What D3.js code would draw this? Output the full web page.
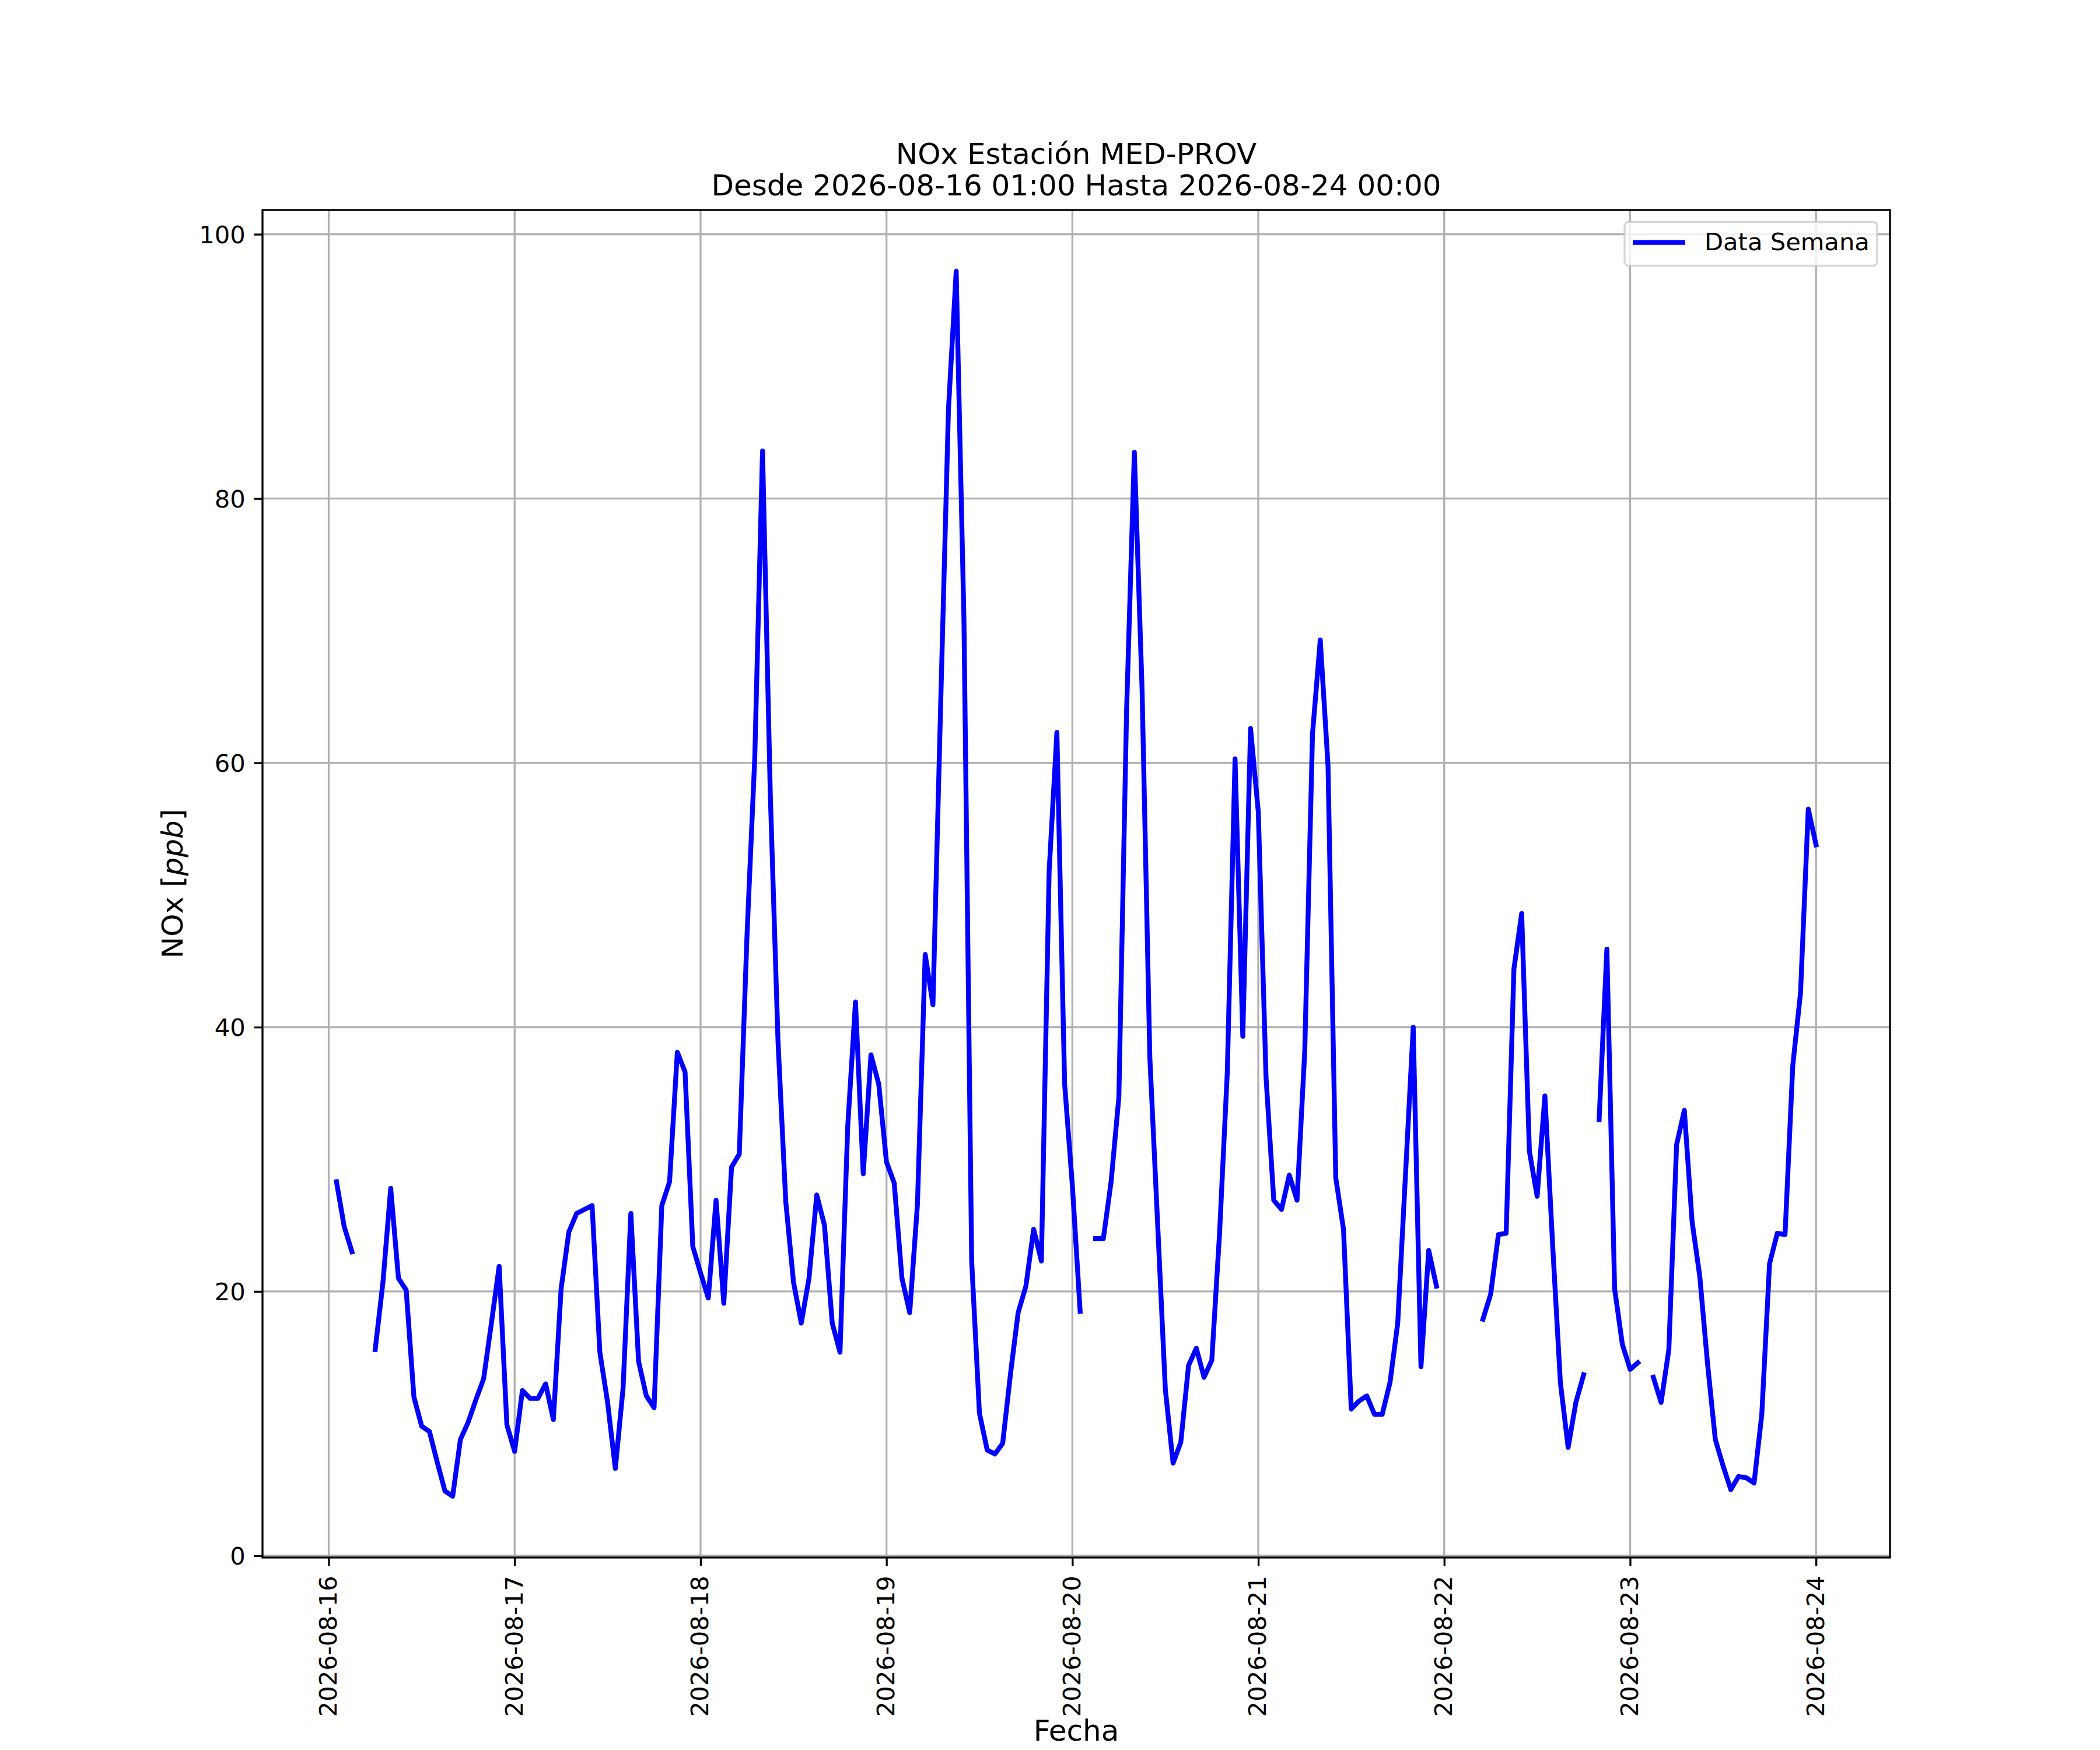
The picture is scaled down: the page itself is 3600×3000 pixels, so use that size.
<!DOCTYPE html>
<html>
<head>
<meta charset="utf-8">
<script src="https://cdn.jsdelivr.net/npm/d3@7"></script>
<style>
  html, body { margin: 0; padding: 0; background: #ffffff; }
  svg { display: block; }
  text { font-family: "DejaVu Sans", sans-serif; fill: #000000; }
</style>
</head>
<body>
<svg id="chart" width="3600" height="3000"></svg>
<script>
// ---------------- DATA ----------------
const titleLine1 = "NOx Estación MED-PROV";
const titleLine2 = "Desde 2026-08-16 01:00 Hasta 2026-08-24 00:00";
const xLabel = "Fecha";
const yLabelPlain = "NOx [";
const yLabelMath = "ppb";
const yLabelEnd = "]";
const legendLabel = "Data Semana";

// hourly series starts at this timestamp; one value per hour (null = missing)
const seriesStart = "2026-08-16T01:00:00Z";
// 16 01:00 -> 17 00:00
const nox_day1 = [28.3, 24.9, 23.0, null, null, 15.6, 20.7, 27.8, 21.0, 20.1, 12.0, 9.8,
                  9.4, 7.1, 4.9, 4.5, 8.8, 10.1, 11.8, 13.4, 17.6, 21.9, 9.9, 7.9];
// 17 01:00 -> 18 00:00
const nox_day2 = [12.5, 11.9, 11.9, 13.0, 10.3, 20.2, 24.5, 25.9, 26.2, 26.5, 15.4, 11.6,
                  6.6, 12.7, 25.9, 14.7, 12.1, 11.2, 26.5, 28.3, 38.1, 36.6, 23.4, 21.4];
// 18 01:00 -> 19 00:00
const nox_day3 = [19.5, 26.9, 19.1, 29.4, 30.4, 47.0, 60.4, 83.6, 57.7, 38.9, 26.8, 20.7,
                  17.6, 21.0, 27.3, 25.0, 17.6, 15.4, 32.5, 41.9, 28.9, 37.9, 35.7, 29.8];
// 19 01:00 -> 20 00:00
const nox_day4 = [28.2, 21.0, 18.4, 26.6, 45.5, 41.7, 64.5, 86.7, 97.2, 70.9, 22.3, 10.8,
                  8.0, 7.7, 8.5, 13.7, 18.4, 20.4, 24.7, 22.3, 51.8, 62.3, 35.7, 28.0];
// 20 01:00 -> 21 00:00
const nox_day5 = [18.5, null, 24.0, 24.0, 28.3, 34.7, 64.0, 83.5, 65.5, 37.7, 25.2, 12.6,
                  7.0, 8.6, 14.4, 15.7, 13.5, 14.8, 24.4, 36.6, 60.3, 39.3, 62.6, 56.3];
// 21 01:00 -> 22 00:00
const nox_day6 = [36.2, 26.9, 26.2, 28.8, 26.9, 38.2, 62.2, 69.3, 59.8, 28.6, 24.7, 11.1,
                  11.7, 12.1, 10.7, 10.7, 13.1, 17.6, 28.8, 40.0, 14.3, 23.1, 20.4, null];
// 22 01:00 -> 23 00:00
const nox_day7 = [null, null, null, null, 17.9, 19.8, 24.3, 24.4, 44.4, 48.6, 30.6, 27.2,
                  34.8, 23.5, 13.1, 8.2, 11.6, 13.7, null, 33.0, 45.9, 20.2, 16.0, 14.1];
// 23 01:00 -> 24 00:00
const nox_day8 = [14.6, null, 13.5, 11.6, 15.6, 31.1, 33.7, 25.3, 21.1, 14.5, 8.8, 6.8,
                  5.0, 6.0, 5.9, 5.5, 10.7, 22.1, 24.4, 24.3, 37.1, 42.6, 56.5, 53.8];

const xTickLabels = ["2026-08-16", "2026-08-17", "2026-08-18", "2026-08-19", "2026-08-20",
                     "2026-08-21", "2026-08-22", "2026-08-23", "2026-08-24"];
const yTickValues = [0, 20, 40, 60, 80, 100];

// ---------------- BUILD ----------------
const allValues = [].concat(nox_day1, nox_day2, nox_day3, nox_day4,
                            nox_day5, nox_day6, nox_day7, nox_day8);
const t0 = new Date(seriesStart);
const HOUR = 3600 * 1000;
const series = allValues.map((v, i) => ({ t: new Date(t0.getTime() + i * HOUR), v: v }));

const W = 3600, H = 3000;
const axL = 450, axR = 3240, axT = 360, axB = 2670;
const PT = 300 / 72; // px per point at 300 dpi

const svg = d3.select("#chart");
svg.append("rect").attr("x", 0).attr("y", 0).attr("width", W).attr("height", H).attr("fill", "#ffffff");

const tMin = series[0].t.getTime(), tMax = series[series.length - 1].t.getTime();
const tPad = 0.05 * (tMax - tMin);
const x = d3.scaleUtc().domain([new Date(tMin - tPad), new Date(tMax + tPad)]).range([axL, axR]);

const valid = allValues.filter(v => v !== null);
const vMin = d3.min(valid), vMax = d3.max(valid);
const vPad = 0.05 * (vMax - vMin);
const y = d3.scaleLinear().domain([vMin - vPad, vMax + vPad]).range([axB, axT]);

const xTickDates = xTickLabels.map(s => new Date(s + "T00:00:00Z"));

// grid
const gridColor = "#b0b0b0";
const gridW = 0.8 * PT;
const grid = svg.append("g");
grid.selectAll("line.gx").data(xTickDates).enter().append("line")
  .attr("x1", d => x(d)).attr("x2", d => x(d))
  .attr("y1", axT).attr("y2", axB)
  .attr("stroke", gridColor).attr("stroke-width", gridW);
grid.selectAll("line.gy").data(yTickValues).enter().append("line")
  .attr("x1", axL).attr("x2", axR)
  .attr("y1", d => y(d)).attr("y2", d => y(d))
  .attr("stroke", gridColor).attr("stroke-width", gridW);

// clip
svg.append("defs").append("clipPath").attr("id", "plotclip")
  .append("rect").attr("x", axL).attr("y", axT).attr("width", axR - axL).attr("height", axB - axT);

// data line
const line = d3.line()
  .defined(d => d.v !== null)
  .x(d => x(d.t))
  .y(d => y(d.v));
svg.append("path")
  .datum(series)
  .attr("clip-path", "url(#plotclip)")
  .attr("d", line)
  .attr("fill", "none")
  .attr("stroke", "#0000ff")
  .attr("stroke-width", 2 * PT)
  .attr("stroke-linejoin", "round")
  .attr("stroke-linecap", "square");

// axes
const tickLen = 3.5 * PT;
const tickPad = 3.5 * PT;
const tickFont = 10 * PT;

const xAxis = d3.axisBottom(x)
  .tickValues(xTickDates)
  .tickFormat((d, i) => xTickLabels[i])
  .tickSize(tickLen)
  .tickPadding(tickPad);
const gx = svg.append("g").attr("transform", `translate(0,${axB})`).call(xAxis);
gx.select(".domain").remove();
gx.selectAll(".tick line").attr("stroke", "#000").attr("stroke-width", 0.8 * PT);
gx.selectAll(".tick text")
  .attr("font-family", "DejaVu Sans")
  .attr("font-size", tickFont)
  .attr("fill", "#000")
  .attr("x", 0).attr("y", 0).attr("dy", null)
  .attr("text-anchor", "end")
  .attr("transform", `translate(${tickFont * 0.31},${tickLen + tickPad + 2}) rotate(-90)`);

const yAxis = d3.axisLeft(y)
  .tickValues(yTickValues)
  .tickFormat(d3.format("d"))
  .tickSize(tickLen)
  .tickPadding(tickPad);
const gy = svg.append("g").attr("transform", `translate(${axL},0)`).call(yAxis);
gy.select(".domain").remove();
gy.selectAll(".tick line").attr("stroke", "#000").attr("stroke-width", 0.8 * PT);
gy.selectAll(".tick text")
  .attr("font-family", "DejaVu Sans")
  .attr("font-size", tickFont)
  .attr("fill", "#000")
  .attr("dy", "0.36em");

// spines
svg.append("rect")
  .attr("x", axL).attr("y", axT).attr("width", axR - axL).attr("height", axB - axT)
  .attr("fill", "none").attr("stroke", "#000").attr("stroke-width", 0.8 * PT);

// legend
const lgX = 2785, lgY = 380.5, lgW = 433, lgH = 75;
svg.append("rect")
  .attr("x", lgX).attr("y", lgY).attr("width", lgW).attr("height", lgH)
  .attr("rx", 7).attr("ry", 7)
  .attr("fill", "#ffffff").attr("fill-opacity", 0.8)
  .attr("stroke", "#cccccc").attr("stroke-opacity", 0.8)
  .attr("stroke-width", 1 * PT * 0.8);
svg.append("line")
  .attr("x1", 2799).attr("x2", 2889).attr("y1", 415.6).attr("y2", 415.6)
  .attr("stroke", "#0000ff").attr("stroke-width", 2 * PT)
  .attr("stroke-linecap", "butt");
svg.append("text")
  .attr("x", 2922).attr("y", 429)
  .attr("font-size", tickFont)
  .text(legendLabel);

// titles
const titleFont = 12 * PT;
svg.append("text").attr("x", (axL + axR) / 2).attr("y", 281)
  .attr("text-anchor", "middle").attr("font-size", titleFont).text(titleLine1);
svg.append("text").attr("x", (axL + axR) / 2).attr("y", 335)
  .attr("text-anchor", "middle").attr("font-size", titleFont).text(titleLine2);

// axis labels
svg.append("text").attr("x", (axL + axR) / 2).attr("y", 2984)
  .attr("text-anchor", "middle").attr("font-size", titleFont).text(xLabel);

const yl = svg.append("text")
  .attr("transform", `translate(313,${(axT + axB) / 2}) rotate(-90)`)
  .attr("text-anchor", "middle")
  .attr("font-size", titleFont);
yl.append("tspan").text(yLabelPlain);
yl.append("tspan").attr("font-style", "italic").text(yLabelMath);
yl.append("tspan").text(yLabelEnd);
</script>
</body>
</html>
